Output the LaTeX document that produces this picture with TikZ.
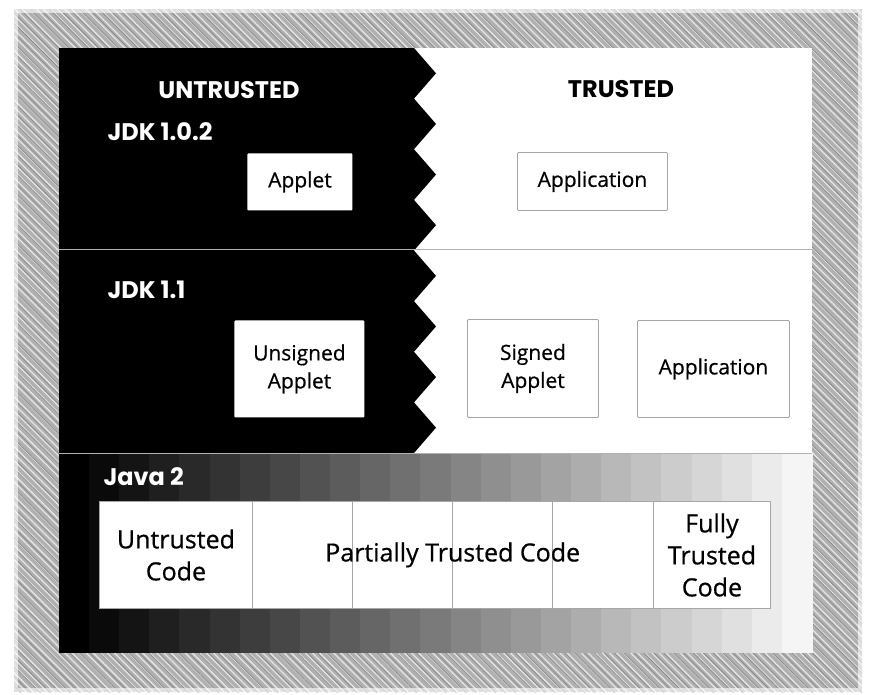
\documentclass[tikz,border=0pt]{standalone}
\usepackage{fontspec}
\setmainfont{Open Sans}[FakeBold=0.6]
\newfontfamily\headfont{Poppins}
\usetikzlibrary{positioning,calc}
\usetikzlibrary{patterns.meta}

\begin{document}
\begin{tikzpicture}[x=1pt,y=-1pt,
    cell/.style={draw=gray!70,line width=0.9pt,fill=white,rounded corners=1pt,
        align=center,anchor=north west,inner sep=0pt,
        font=\fontsize{21}{28}\selectfont},
    strip/.style={draw=gray!70,line width=0.9pt,fill=white,anchor=north west,
        inner sep=0pt,minimum height=107pt},
    txt/.style={align=center,font=\fontsize{25}{32}\selectfont},
    head/.style={font=\headfont\bfseries\fontsize{24}{26}\selectfont},
    ]
\useasboundingbox (0,0) rectangle (872,694);
\fill[white] (0,0) rectangle (872,694);
\fill[gray!62] (14,9) rectangle (862,692);
\fill[pattern={Lines[angle=-45,distance=5pt,line width=1.3pt]},pattern color=gray!20]
    (14,9) rectangle (862,692);
\fill[pattern={Lines[angle=-45,distance=7pt,line width=0.8pt,yshift=2pt]},pattern color=gray!90]
    (14,9) rectangle (862,692);
\draw[white,line width=8pt,opacity=0.6] (14,9) rectangle (862,692);

\fill[white] (59,48) rectangle (812,453);
\fill[black] (59,48) -- (414,48)
    \foreach \k in {0,...,7} {-- (436,{48+(\k+0.5)*50.625}) -- (414,{48+(\k+1)*50.625})}
    -- (59,453) -- cycle;
\foreach \i [evaluate=\i as \s using int(4*\i)] in {0,...,24}
    \fill[white!\s!black] ({59+\i*30.12},453) rectangle ({59+(\i+1)*30.12+0.5},653);
\draw[gray!60,line width=1pt] (59,249) -- (812,249);
\draw[gray!60,line width=1pt] (59,453) -- (812,453);

\node[head,text=white] (untr) at (229,90) {UNTRUSTED};
\node[head] (trust) at (621,89) {TRUSTED};
\node[head,text=white,anchor=west] (jdka) at (104,132) {JDK 1.0.2};
\node[head,text=white,anchor=west] (jdkb) at (104,290) {JDK 1.1};
\node[head,text=white,anchor=west] (java) at (100,477) {Java 2};

\node[cell,draw=none,minimum width=105pt,minimum height=57pt] (applet) at (247,153) {Applet};
\node[cell,minimum width=150pt,minimum height=58pt] (app1) at (517,152) {Application};
\node[cell,draw=none,minimum width=130pt,minimum height=97pt] (unsigned) at (234,320) {Unsigned\\Applet};
\node[cell,minimum width=131pt,minimum height=98pt] (signed) at (467,319) {Signed\\Applet};
\node[cell,minimum width=152pt,minimum height=97pt] (app2) at (637,320) {Application};

\foreach \a/\b [count=\n] in {99/252,252/352,352/452,452/552,552/653,653/770}
    \node[strip,minimum width={(\b-\a)*1pt}] (c\n) at (\a,501) {};
\node[txt] (untrusted) at (c1) {Untrusted\\Code};
\node[txt] (partial) at ($(c2.center)!0.5!(c5.center)$) {Partially Trusted Code};
\node[txt] (fully) at (c6) {Fully\\Trusted\\Code};
\end{tikzpicture}
\end{document}
